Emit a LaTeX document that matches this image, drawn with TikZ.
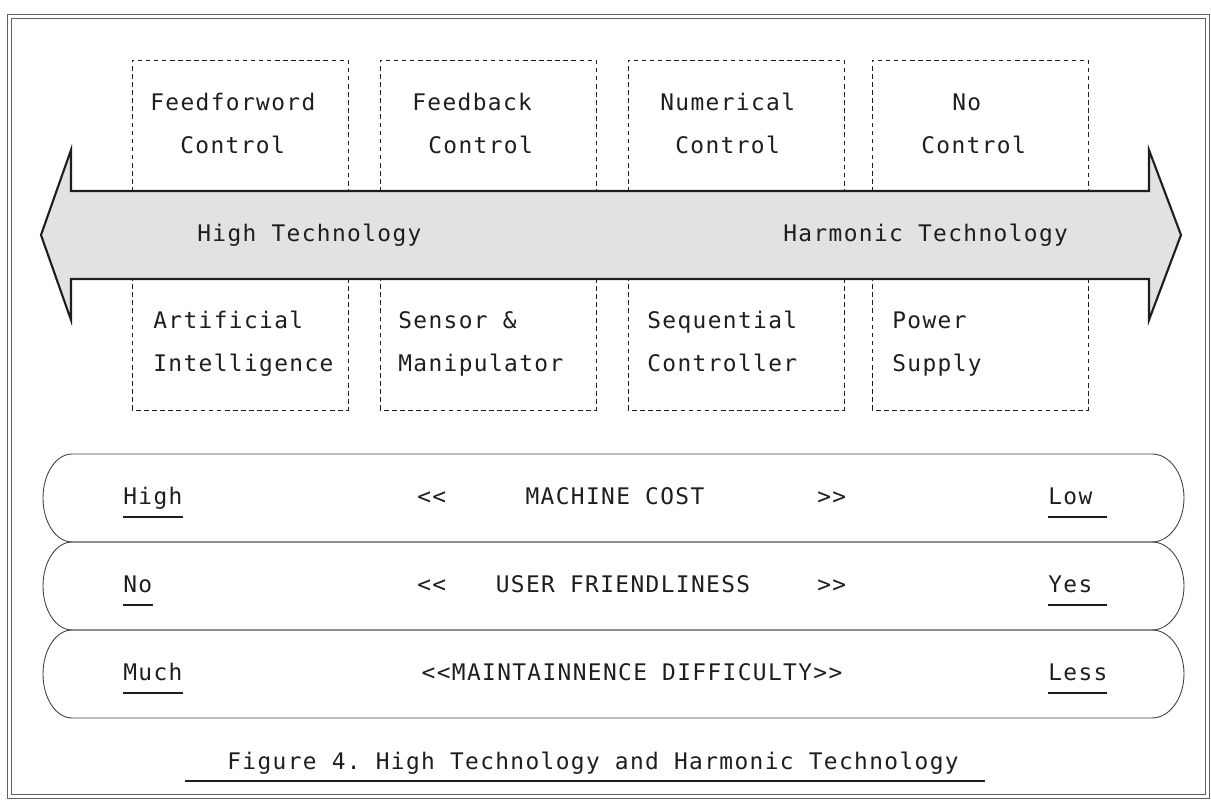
\documentclass[tikz,border=0pt]{standalone}
\usepackage{fontspec}
\setmonofont{DejaVu Sans Mono}[LetterSpace=6.0]
\usetikzlibrary{calc}
\definecolor{ink}{HTML}{1E1E1E}
\definecolor{shade}{HTML}{E2E2E2}

\begin{document}
\begin{tikzpicture}[x=0.02cm,y=0.02cm,
  frame/.style={draw=ink!70,line width=0.5pt},
  dashbox/.style={draw=ink,line width=0.4pt,dash pattern=on 2.6pt off 2pt},
  arrowband/.style={draw=ink,line width=1.2pt,fill=shade,line join=miter},
  rowline/.style={draw=ink!85,line width=0.5pt},
  uline/.style={draw=ink,line width=0.7pt},
  txt/.style={font=\ttfamily\fontsize{13}{15}\selectfont,text=ink,inner sep=0pt,anchor=base west}]
  \useasboundingbox (0,0) rectangle (1211,800);

  % Double frame
  \draw[frame] (7,2) rectangle (1209,786);
  \draw[frame] (11,6) rectangle (1205,782);

  % Dashed boxes
  \foreach \x in {132,380,628,872} {
    \draw[dashbox] (\x,390) rectangle ++(216,350);
  }

  % Double arrow
  \draw[arrowband] (41,565) -- (71,650) -- (71,609) -- (1149,609) -- (1149,650)
    -- (1181,565) -- (1149,480) -- (1149,521) -- (71,521) -- (71,480) -- cycle;
  \node[txt] (hightech) at (197,558) {High Technology};
  \node[txt] (harmtech) at (783,558) {Harmonic Technology};

  % Box labels
  \node[txt] (ff1) at (150,689) {Feedforword};
  \node[txt] (ff2) at (180,646) {Control};
  \node[txt] (ai1) at (153,471) {Artificial};
  \node[txt] (ai2) at (153,428) {Intelligence};
  \node[txt] (fb1) at (412,689) {Feedback};
  \node[txt] (fb2) at (428,646) {Control};
  \node[txt] (sm1) at (398,471) {Sensor \&};
  \node[txt] (sm2) at (398,428) {Manipulator};
  \node[txt] (nc1) at (660,689) {Numerical};
  \node[txt] (nc2) at (675,646) {Control};
  \node[txt] (sc1) at (647,471) {Sequential};
  \node[txt] (sc2) at (647,428) {Controller};
  \node[txt] (no1) at (952,689) {No};
  \node[txt] (no2) at (921,646) {Control};
  \node[txt] (ps1) at (892,471) {Power};
  \node[txt] (ps2) at (892,428) {Supply};

  % Rows
  \foreach \t/\b in {346/258,258/170,170/82} {
    \draw[rowline] (72,\t) -- (1152,\t)
      arc[start angle=90,end angle=-90,x radius=0.64cm,y radius=0.88cm]
      -- (72,\b)
      arc[start angle=-90,end angle=-270,x radius=0.58cm,y radius=0.88cm] -- cycle;
  }

  \node[txt] (costhi) at (123,295) {High};
  \node[txt] (costlo) at (1048,295) {Low};
  \node[txt] (costl) at (417,295) {<<};
  \node[txt,anchor=base] (cost) at (615,295) {MACHINE COST};
  \node[txt] (costr) at (817,295) {>>};

  \node[txt] (userno) at (123,207) {No};
  \node[txt] (useryes) at (1048,207) {Yes};
  \node[txt] (userl) at (417,207) {<<};
  \node[txt,anchor=base] (user) at (623,207) {USER FRIENDLINESS};
  \node[txt] (userr) at (817,207) {>>};

  \node[txt] (maintmuch) at (123,119) {Much};
  \node[txt] (maintless) at (1048,119) {Less};
  \node[txt,anchor=base] (maint) at (632,119) {<<MAINTAINNENCE DIFFICULTY>>};

  % Underlines
  \foreach \n in {costhi,userno,maintmuch} {
    \draw[uline] ($(\n.base west)+(0,-12)$) -- ($(\n.base east)+(0,-12)$);
  }
  \foreach \n in {costlo,useryes,maintless} {
    \draw[uline] ($(\n.base west)+(0,-12)$) -- ++(59,0);
  }

  % Caption
  \node[txt,anchor=base] (caption) at (593,30) {Figure 4. High Technology and Harmonic Technology};
  \draw[uline,line width=0.9pt] (185,19) -- (985,19);
\end{tikzpicture}
\end{document}
